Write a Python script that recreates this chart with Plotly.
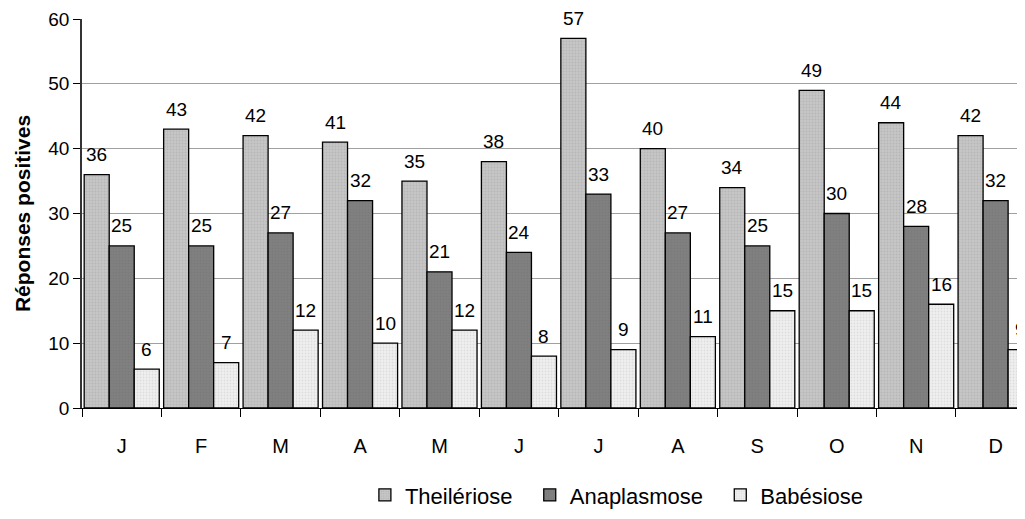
import plotly.graph_objects as go

months = ["J", "F", "M", "A", "M", "J", "J", "A", "S", "O", "N", "D"]
theileriose = [36, 43, 42, 41, 35, 38, 57, 40, 34, 49, 44, 42]
anaplasmose = [25, 25, 27, 32, 21, 24, 33, 27, 25, 30, 28, 32]
babesiose = [6, 7, 12, 10, 12, 8, 9, 11, 15, 15, 16, 9]

NBSP = "\u00a0"
series = [
    ("Theilériose", theileriose, "#c6c6c6", "#a6a6a6", NBSP * 2),
    ("Anaplasmose", anaplasmose, "#808080", "#747474", NBSP * 2),
    ("Babésiose", babesiose, "#f0f0f0", "#c8c8c8", ""),
]

FONT = "Arial, Liberation Sans, sans-serif"
BARGAP = 0.055
x = list(range(len(months)))
boundaries = [j - 0.5 for j in range(len(months) + 1)]
fig = go.Figure()
annotations = []
w = (1 - BARGAP) / len(series)
for i, (name, vals, col, fg, pad) in enumerate(series):
    fig.add_trace(go.Bar(
        x=x, y=vals, name=name + pad,
        marker=dict(color=col, line=dict(color="#000000", width=1.3),
                    pattern=dict(shape=".", size=3, solidity=0.3, fgcolor=fg, bgcolor=col)),
        cliponaxis=False,
    ))
    for j, v in zip(x, vals):
        annotations.append(dict(
            x=j + (i - 1) * w, y=v, xref="x", yref="y", text=str(v),
            showarrow=False, yanchor="middle", yshift=20,
            font=dict(family=FONT, size=19, color="#000"),
        ))

fig.update_layout(
    width=1017, height=511, autosize=False,
    margin=dict(l=74, r=0, t=11, b=111, autoexpand=False),
    barmode="group", bargap=BARGAP, bargroupgap=0,
    plot_bgcolor="white", paper_bgcolor="white",
    font=dict(family=FONT, size=18, color="#000"),
    showlegend=True,
    annotations=annotations,
    legend=dict(orientation="h", x=0.300, xanchor="left",
                y=-0.224, yanchor="middle", font=dict(size=22),
                traceorder="normal", itemwidth=30),
)
fig.update_xaxes(
    tickmode="array", tickvals=x, ticktext=months,
    range=[-0.5, 11.37], ticks="",
    minor=dict(tickmode="array", tickvals=boundaries, ticks="outside",
               ticklen=8, tickcolor="#000", tickwidth=1, showgrid=False),
    showline=True, linecolor="#000", linewidth=1,
    showgrid=False, tickfont=dict(size=20), ticklabelstandoff=20,
    automargin=False,
)
fig.update_yaxes(
    range=[0, 60], dtick=10, ticks="outside", ticklen=7, tickcolor="#000",
    showline=True, linecolor="#333", linewidth=1.5,
    showgrid=True, gridcolor="#a0a0a0", gridwidth=1,
    zeroline=False, tickfont=dict(size=19), automargin=False,
    title=dict(text="<b>Réponses positives</b>", font=dict(size=21), standoff=12),
)
fig.write_html("out.html")
